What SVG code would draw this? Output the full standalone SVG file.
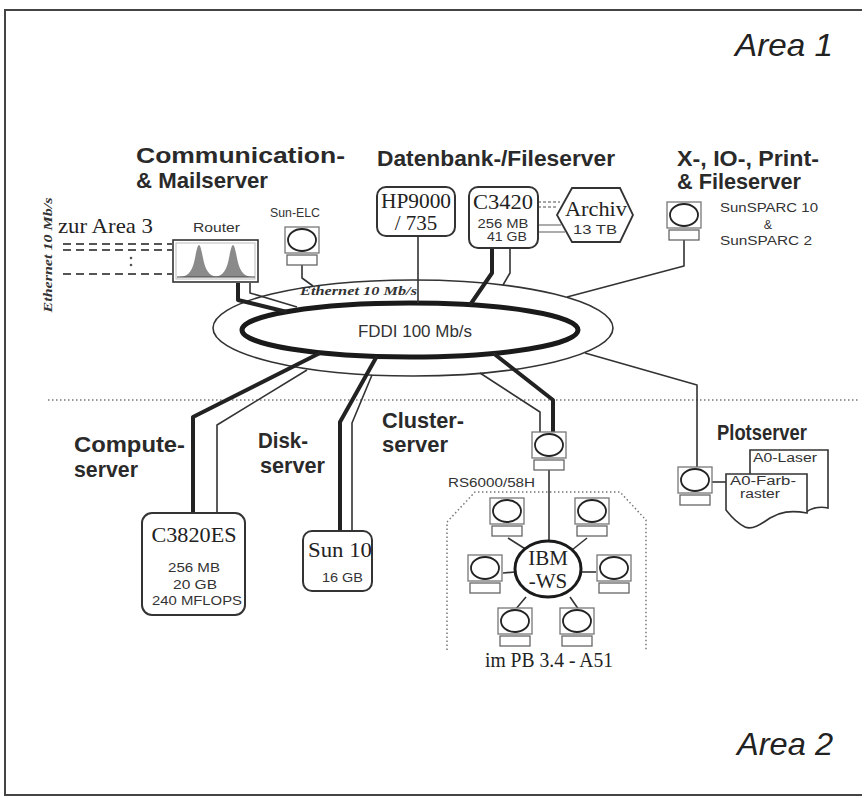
<svg xmlns="http://www.w3.org/2000/svg" xmlns:xlink="http://www.w3.org/1999/xlink" width="867" height="798" viewBox="0 0 867 798">
  <style>
    .head { font-family: "Liberation Sans", Arial, sans-serif; font-weight: bold; font-size: 22px; fill: #2a2a2a; }
    .area { font-family: "Liberation Sans", Arial, sans-serif; font-style: italic; font-size: 32px; fill: #222; }
    .small { font-family: "Liberation Sans", Arial, sans-serif; font-size: 12.5px; fill: #333; }
    .serif { font-family: "Liberation Serif", "Times New Roman", serif; font-size: 21px; fill: #222; }
    .eth { font-family: "Liberation Serif", "Times New Roman", serif; font-weight: bold; font-style: italic; font-size: 12.5px; fill: #333; }
    .box { fill: #fff; stroke: #333; stroke-width: 2; }
    .thick { fill: none; stroke: #222; stroke-width: 4; stroke-linejoin: round; }
    .thin { fill: none; stroke: #333; stroke-width: 1.6; stroke-linejoin: round; }
    .grey { fill: none; stroke: #888; stroke-width: 1.4; }
    .dot { fill: none; stroke: #777; stroke-width: 1.5; stroke-dasharray: 1.5 2.5; }
    .dash { fill: none; stroke: #555; stroke-width: 2; stroke-dasharray: 8 5; }
  </style>
  <defs>
    <!-- workstation icon: monitor with oval screen on a flat base -->
    <g id="mon">
      <rect x="0" y="0" width="34" height="26" fill="#fff" stroke="#777" stroke-width="1.3"/>
      <ellipse cx="17" cy="13" rx="14" ry="11" fill="#fff" stroke="#222" stroke-width="1.8"/>
      <rect x="2" y="28" width="30" height="10" fill="#fff" stroke="#666" stroke-width="1.3"/>
    </g>
  </defs>

  <rect width="867" height="798" fill="#fff"/>
  <!-- outer frame -->
  <path d="M862,10 H5 V795 H862" fill="none" stroke="#444" stroke-width="2"/>

  <text class="area" x="735" y="56" textLength="98" lengthAdjust="spacingAndGlyphs">Area 1</text>
  <text class="area" x="737" y="755" textLength="96" lengthAdjust="spacingAndGlyphs">Area 2</text>

  <!-- boundary between areas -->
  <line x1="48" y1="400" x2="860" y2="400" class="dot"/>

  <!-- section headings -->
  <g id="headings">
    <text class="head" x="136" y="163" textLength="209" lengthAdjust="spacingAndGlyphs">Communication-</text>
    <text class="head" x="136" y="188" textLength="132" lengthAdjust="spacingAndGlyphs">&amp; Mailserver</text>
    <text class="head" x="377" y="166" textLength="238" lengthAdjust="spacingAndGlyphs">Datenbank-/Fileserver</text>
    <text class="head" x="677" y="166" font-size="18.5" textLength="142" lengthAdjust="spacingAndGlyphs">X-, IO-, Print-</text>
    <text class="head" x="677" y="189" font-size="18.5" textLength="124" lengthAdjust="spacingAndGlyphs">&amp; Fileserver</text>
    <text class="head" x="74" y="452" textLength="111" lengthAdjust="spacingAndGlyphs">Compute-</text>
    <text class="head" x="74" y="477" textLength="64" lengthAdjust="spacingAndGlyphs">server</text>
    <text class="head" x="258" y="448" textLength="50" lengthAdjust="spacingAndGlyphs">Disk-</text>
    <text class="head" x="260" y="473" textLength="65" lengthAdjust="spacingAndGlyphs">server</text>
    <text class="head" x="382" y="428" textLength="82" lengthAdjust="spacingAndGlyphs">Cluster-</text>
    <text class="head" x="382" y="452" textLength="66" lengthAdjust="spacingAndGlyphs">server</text>
    <text class="head" x="717" y="440" textLength="90" lengthAdjust="spacingAndGlyphs">Plotserver</text>
  </g>

  <!-- backbone rings -->
  <g id="ethernet-ring">
    <ellipse cx="413" cy="328" rx="200" ry="48" fill="#fff" stroke="#333" stroke-width="1.6"/>
    <text class="eth" x="300" y="295" textLength="117" lengthAdjust="spacingAndGlyphs">Ethernet 10 Mb/s</text>
  </g>
  <g id="fddi-ring">
    <ellipse cx="410" cy="330" rx="168" ry="27" fill="#fff" stroke="#1a1a1a" stroke-width="5"/>
    <text x="415" y="337" text-anchor="middle" font-family="'Liberation Sans', Arial, sans-serif" font-size="16.5" fill="#333" textLength="114" lengthAdjust="spacingAndGlyphs">FDDI 100 Mb/s</text>
  </g>

  <text class="eth" transform="translate(52,255) rotate(-90)" text-anchor="middle" textLength="115" lengthAdjust="spacingAndGlyphs">Ethernet 10 Mb/s</text>

  <!-- connectors -->
  <g id="connectors">
    <line x1="418" y1="236" x2="418" y2="303" class="thin"/>
    <path d="M238,283 V300 L287,312" class="thick" stroke-width="3"/>
    <path d="M250,283 V293 L297,307" class="thin"/>
    <path d="M302,265 V278 L313,286" class="thin"/>
    <path d="M492,248 V273 L470,305" class="thick" stroke-width="3.5"/>
    <path d="M510,248 V273 L503,285" class="thin"/>
    <path d="M684,240 V266 L567,297" class="thin"/>
    <path d="M320,353 L193,417 V513" class="thick"/>
    <path d="M307,370 L217,425 V513" class="thin"/>
    <path d="M377,356 L340,422 V531" class="thick"/>
    <path d="M372,375 L352,423 V531" class="thin"/>
    <path d="M493,353 L553,400 V432" class="thick"/>
    <path d="M480,373 L540,412 V432" class="thin"/>
    <path d="M585,353 L697,385 V467" class="thin"/>
    <line x1="710" y1="482" x2="726" y2="482" class="thin"/>
    <!-- C3420 to archive -->
    <line x1="538" y1="202" x2="560" y2="202" class="grey" stroke-dasharray="3 2"/>
    <line x1="538" y1="207" x2="558" y2="207" class="grey" stroke-dasharray="3 2"/>
    <line x1="538" y1="225" x2="561" y2="225" class="grey"/>
    <line x1="538" y1="232" x2="565" y2="232" class="grey"/>
    <!-- cluster star -->
    <line x1="549" y1="470" x2="549" y2="541" class="thin" stroke-width="2.5"/>
    <line x1="508" y1="538" x2="527" y2="550" class="thin" stroke-width="3"/>
    <line x1="587" y1="538" x2="572" y2="550" class="thin" stroke-width="3"/>
    <line x1="503" y1="573" x2="515" y2="572" class="thin" stroke-width="3"/>
    <line x1="581" y1="572" x2="596" y2="572" class="thin" stroke-width="3"/>
    <line x1="526" y1="597" x2="515" y2="610" class="thin" stroke-width="3"/>
    <line x1="570" y1="597" x2="579" y2="610" class="thin" stroke-width="3"/>
  </g>

  <!-- link towards area 3 -->
  <g id="area3-link">
    <text class="serif" x="58" y="233" font-size="18" textLength="95" lengthAdjust="spacingAndGlyphs">zur Area 3</text>
    <line x1="63" y1="244" x2="172" y2="244" class="dash"/>
    <line x1="63" y1="250" x2="172" y2="250" class="dash"/>
    <line x1="63" y1="274" x2="172" y2="274" class="dash"/>
    <circle cx="131" cy="258" r="1.3" fill="#555"/>
    <circle cx="131" cy="265" r="1.3" fill="#555"/>
  </g>

  <g id="router">
    <text class="small" x="193" y="232" textLength="47" lengthAdjust="spacingAndGlyphs">Router</text>
    <rect x="173" y="240" width="85" height="42" fill="#fff" stroke="#333" stroke-width="1.6"/>
    <rect x="176" y="243" width="79" height="36" fill="none" stroke="#bbb" stroke-width="1"/>
    <path d="M179,277 C190,277 193,268 195,258 C197,248 198,245 199,245 C200,245 201,248 203,258 C205,268 208,277 219,277 Z" fill="#8a8a8a"/>
    <path d="M213,277 C224,277 227,268 229,258 C231,248 232,245 233,245 C234,245 235,248 237,258 C239,268 242,277 253,277 Z" fill="#8a8a8a"/>
    <line x1="177" y1="277" x2="255" y2="277" stroke="#444" stroke-width="1.2"/>
  </g>

  <g id="sun-elc">
    <text class="small" x="270" y="217" textLength="50" lengthAdjust="spacingAndGlyphs">Sun-ELC</text>
    <use xlink:href="#mon" x="285" y="227"/>
  </g>

  <g id="hp9000">
    <rect x="377" y="187" width="78" height="49" rx="9" class="box"/>
    <text class="serif" x="416" y="208" font-size="19" text-anchor="middle" textLength="70" lengthAdjust="spacingAndGlyphs">HP9000</text>
    <text class="serif" x="416" y="230" font-size="19" text-anchor="middle">/ 735</text>
  </g>

  <g id="c3420">
    <rect x="469" y="187" width="69" height="61" rx="9" class="box"/>
    <text class="serif" x="503" y="209" font-size="19" text-anchor="middle" textLength="60" lengthAdjust="spacingAndGlyphs">C3420</text>
    <text class="small" x="503" y="228" font-size="10.5" text-anchor="middle" textLength="51" lengthAdjust="spacingAndGlyphs">256 MB</text>
    <text class="small" x="507" y="241" font-size="10.5" text-anchor="middle" textLength="40" lengthAdjust="spacingAndGlyphs">41 GB</text>
  </g>

  <g id="archiv">
    <polygon points="557,215 572,188 620,188 633,215 620,242 572,242" fill="#fff" stroke="#333" stroke-width="1.8"/>
    <text class="serif" x="596" y="216" text-anchor="middle" textLength="62" lengthAdjust="spacingAndGlyphs">Archiv</text>
    <text class="small" x="595" y="234" text-anchor="middle" textLength="44" lengthAdjust="spacingAndGlyphs">13 TB</text>
  </g>

  <g id="x-fileserver">
    <use xlink:href="#mon" x="667" y="202"/>
    <text class="small" x="720" y="212" font-size="13.5" textLength="98" lengthAdjust="spacingAndGlyphs">SunSPARC 10</text>
    <text class="small" x="768" y="229" font-size="13.5" text-anchor="middle">&amp;</text>
    <text class="small" x="720" y="245" font-size="13.5" textLength="92" lengthAdjust="spacingAndGlyphs">SunSPARC 2</text>
  </g>

  <g id="c3820es">
    <rect x="142" y="513" width="103" height="102" rx="10" class="box"/>
    <text class="serif" x="194" y="542" text-anchor="middle" textLength="85" lengthAdjust="spacingAndGlyphs">C3820ES</text>
    <text class="small" x="194" y="572" text-anchor="middle" textLength="52" lengthAdjust="spacingAndGlyphs">256 MB</text>
    <text class="small" x="195" y="589" text-anchor="middle" textLength="44" lengthAdjust="spacingAndGlyphs">20 GB</text>
    <text class="small" x="197" y="605" text-anchor="middle" textLength="90" lengthAdjust="spacingAndGlyphs">240 MFLOPS</text>
  </g>

  <g id="sun10">
    <rect x="303" y="531" width="69" height="60" rx="9" class="box"/>
    <text class="serif" x="308" y="557" textLength="64" lengthAdjust="spacingAndGlyphs">Sun 10</text>
    <text class="small" x="322" y="582" textLength="41" lengthAdjust="spacingAndGlyphs">16 GB</text>
  </g>

  <g id="rs6000">
    <use xlink:href="#mon" x="532" y="432"/>
    <text class="small" x="448" y="487" font-size="12" textLength="87" lengthAdjust="spacingAndGlyphs">RS6000/58H</text>
  </g>

  <g id="cluster-room">
    <path d="M447,650 V522 L475,492 H620 L646,520 V650" class="dot"/>
    <text class="serif" x="485" y="667" font-size="17" textLength="128" lengthAdjust="spacingAndGlyphs">im PB 3.4 - A51</text>
  </g>

  <g id="ibm-ws">
    <ellipse cx="548" cy="569" rx="33" ry="28" fill="#fff" stroke="#1a1a1a" stroke-width="3"/>
    <text class="serif" x="548" y="565" text-anchor="middle" font-size="19">IBM</text>
    <text class="serif" x="548" y="588" text-anchor="middle" font-size="19">-WS</text>
  </g>

  <g id="ws-1"><use xlink:href="#mon" x="490" y="498"/></g>
  <g id="ws-2"><use xlink:href="#mon" x="575" y="498"/></g>
  <g id="ws-3"><use xlink:href="#mon" x="468" y="555"/></g>
  <g id="ws-4"><use xlink:href="#mon" x="597" y="555"/></g>
  <g id="ws-5"><use xlink:href="#mon" x="498" y="608"/></g>
  <g id="ws-6"><use xlink:href="#mon" x="560" y="608"/></g>

  <g id="plotserver">
    <use xlink:href="#mon" x="678" y="467"/>
    <path d="M750,474 V450 H828 V508 C818,506 812,508 806,512" fill="#fff" stroke="#333" stroke-width="1.6"/>
    <text class="small" x="753" y="462" font-size="12" textLength="64" lengthAdjust="spacingAndGlyphs">A0-Laser</text>
    <path d="M726,474 H807 V513 C790,510 780,512 770,518 C760,525 752,530 745,527 C735,522 730,515 726,510 Z" fill="#fff" stroke="#333" stroke-width="1.6"/>
    <text class="small" x="730" y="485" font-size="10.5" textLength="66" lengthAdjust="spacingAndGlyphs">A0-Farb-</text>
    <text class="small" x="740" y="498" font-size="10.5" textLength="40" lengthAdjust="spacingAndGlyphs">raster</text>
  </g>
</svg>
